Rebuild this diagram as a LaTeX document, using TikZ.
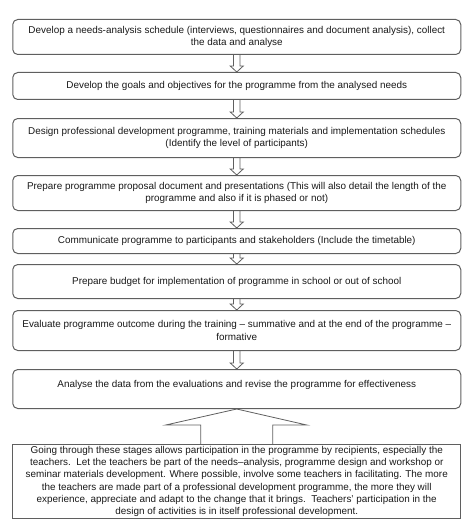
\documentclass[tikz,border=0pt]{standalone}
\usepackage{fontspec}
\setmainfont{Liberation Sans}
\usetikzlibrary{calc}
\tikzstyle{flowChart} = [x = 1pt, y = -1pt]
\definecolor{lineColor}{RGB}{95,95,95}
\definecolor{textColor}{RGB}{25,25,25}
\tikzstyle{stageBox} = [draw=lineColor, line width=1pt, rounded corners=5pt, minimum width=448pt, inner sep=0pt, align=center, anchor=north, text=textColor, font=\fontsize{9.9}{12.3}\selectfont]
\tikzstyle{noteBox} = [stageBox, rounded corners=0pt]
\tikzstyle{arrowLine} = [draw=lineColor, line width=.8pt, line join=miter]
\newcommand{\hw}{3.3}
\newcommand{\headHw}{6.5}
\newcommand{\headLen}{6}
\newcommand{\stageArrow}[2]{\draw [arrowLine] ($(#1.south) + (-\hw,0)$) -- ($(#2.north) + (-\hw,-\headLen)$) -- ($(#2.north) + (-\headHw,-\headLen)$) -- (#2.north) -- ($(#2.north) + (\headHw,-\headLen)$) -- ($(#2.north) + (\hw,-\headLen)$) -- ($(#1.south) + (\hw,0)$);}
\begin{document}
\begin{tikzpicture}[flowChart]
  \useasboundingbox (0,0) rectangle (474,532);
  \node [stageBox, minimum height=35pt] (needs) at (236.75,19) {Develop a needs-analysis schedule (interviews, questionnaires and document analysis), collect\\the data and analyse};
  \node [stageBox, minimum height=27pt] (goals) at (236.75,72) {Develop the goals and objectives for the programme from the analysed needs};
  \node [stageBox, minimum height=39pt] (design) at (236.75,118) {Design professional development programme, training materials and implementation schedules\\(Identify the\ level of participants)};
  \node [stageBox, minimum height=35pt] (proposal) at (236.75,175) {Prepare programme proposal document and presentations (This will also detail the length of the\\programme and also if it is phased or not)};
  \node [stageBox, minimum height=25pt] (communicate) at (236.75,228) {Communicate programme to participants and stakeholders (Include the timetable)};
  \node [stageBox, minimum height=34pt] (budget) at (236.75,264) {Prepare budget for implementation of programme in school or out of school};
  \node [stageBox, minimum height=40pt] (evaluate) at (236.75,310) {Evaluate programme outcome during the training -- summative and at the end of the programme --\\formative};
  \node [stageBox, text height=18pt, text depth=21pt] (analyse) at (236.75,369) {Analyse the data from the evaluations and revise the programme for effectiveness};
  \node [noteBox, minimum height=74pt] (note) at (236.75,444) {Going through these stages allows participation in the programme by recipients, especially the\\teachers.\ \ Let the teachers be part of the needs--analysis, programme design and workshop or\\seminar materials development. Where possible, involve some teachers in facilitating. The more\\the teachers are made part of a professional development programme, the more they will\\experience, appreciate and adapt to the change that it brings.\ \ Teachers' participation in the\\design of activities is in itself professional development.};

  \stageArrow{needs}{goals}
  \stageArrow{goals}{design}
  \stageArrow{design}{proposal}
  \stageArrow{proposal}{communicate}
  \stageArrow{communicate}{budget}
  \stageArrow{budget}{evaluate}
  \stageArrow{evaluate}{analyse}

  % big arrow from the note up to the last stage
  \draw [arrowLine] ($(note.north) + (-36,0)$) -- ($(note.north) + (-36,-19)$) -- ($(note.north) + (-71,-19)$) -- (analyse.south) -- ($(note.north) + (70,-19)$) -- ($(note.north) + (36,-19)$) -- ($(note.north) + (36,0)$);
\end{tikzpicture}
\end{document}
